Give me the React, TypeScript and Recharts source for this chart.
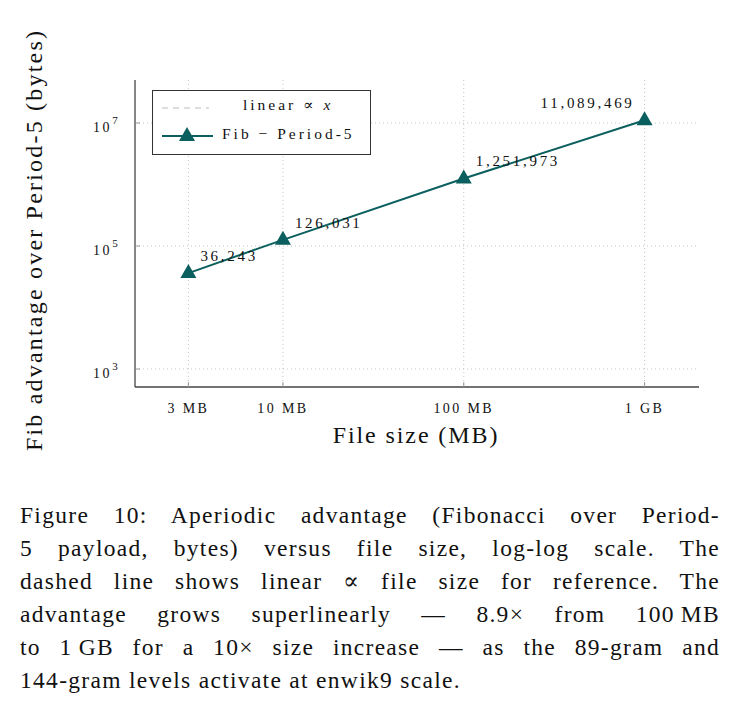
import React from 'react';
import { LineChart, Line, XAxis, YAxis, CartesianGrid, LabelList } from 'recharts';

// values
const sizesMB = [3, 10, 100, 1000];
const advantage = [36243, 126031, 1251973, 11089469];
const pointLabels = ['36,243', '126,031', '1,251,973', '11,089,469'];
const xTicks = [3, 10, 100, 1000];
const xTickLabels = ['3 MB', '10 MB', '100 MB', '1 GB'];
const yTicks = [1e3, 1e5, 1e7];

const data = sizesMB.map((s, i) => ({ size: s, adv: advantage[i], label: pointLabels[i] }));

const TEAL = '#0b5f5e';
const FRAME = '#454545';
const SERIF = '"Liberation Serif", "DejaVu Serif", serif';

const xLabel = (v: number) => xTickLabels[xTicks.indexOf(v)] ?? String(v);

const BottomTick = (props: any) => {
  const { x, y, payload } = props;
  return (
    <g>
      <line x1={x} x2={x} y1={y} y2={y - 5} stroke="#999" />
      <text x={x} y={y + 26} textAnchor="middle" fontSize={14} letterSpacing={2.4} fontFamily={SERIF} fill="#111">
        {xLabel(payload.value)}
      </text>
    </g>
  );
};

const TopTick = (props: any) => {
  const { x, y } = props;
  return <line x1={x} x2={x} y1={y} y2={y + 5} stroke="#999" />;
};

const LeftTick = (props: any) => {
  const { x, y, payload } = props;
  const exp = Math.round(Math.log10(payload.value));
  return (
    <g>
      <line x1={x} x2={x + 5} y1={y} y2={y} stroke="#999" />
      <text x={x - 42} y={y + 9} textAnchor="start" fontSize={14} letterSpacing={2.6} fontFamily={SERIF} fill="#111">
        10<tspan dy={-8} fontSize={11}>{exp}</tspan>
      </text>
    </g>
  );
};

const RightTick = (props: any) => {
  const { x, y } = props;
  return <line x1={x} x2={x - 5} y1={y} y2={y} stroke="#999" />;
};

const PointLabel = (props: any) => {
  const { x, y, value, index } = props;
  const last = index === advantage.length - 1;
  return (
    <text
      x={last ? x - 10 : x + 12}
      y={y - 12}
      textAnchor={last ? 'end' : 'start'}
      fontSize={15}
      letterSpacing={2.7}
      fontFamily={SERIF}
      fill="#111"
    >
      {value}
    </text>
  );
};

const Triangle = (props: any) => {
  const { cx, cy } = props;
  if (cx == null || cy == null) return null;
  return <polygon points={`${cx},${cy - 9} ${cx - 8},${cy + 5} ${cx + 8},${cy + 5}`} fill={TEAL} />;
};

export default function App() {
  return (
    <div style={{ position: 'absolute', left: 0, top: 0, width: 736, height: 722, background: '#fff', fontFamily: SERIF, color: '#111' }}>
      <LineChart
        width={736}
        height={460}
        data={data}
        margin={{ top: 80, right: 37, bottom: 43, left: 75 }}
      >
        <CartesianGrid stroke="#c4c4c4" strokeDasharray="1 3" verticalValues={xTicks} horizontalValues={yTicks} />
        <XAxis
          dataKey="size"
          type="number"
          scale="log"
          domain={[1.52, 2000]}
          allowDataOverflow
          ticks={xTicks}
          tickLine={false}
          tickSize={0}
          tickMargin={0}
          height={30}
          axisLine={{ stroke: FRAME, strokeWidth: 1.3 }}
          tick={<BottomTick />}
          interval={0}
        />
        <XAxis
          xAxisId="top"
          orientation="top"
          dataKey="size"
          type="number"
          scale="log"
          domain={[1.52, 2000]}
          allowDataOverflow
          ticks={xTicks}
          tickLine={false}
          tickSize={0}
          tickMargin={0}
          height={0}
          axisLine={{ stroke: FRAME, strokeWidth: 1.3 }}
          tick={<TopTick />}
          interval={0}
        />
        <YAxis
          type="number"
          scale="log"
          domain={[510, 5e7]}
          allowDataOverflow
          ticks={yTicks}
          tickLine={false}
          tickSize={0}
          tickMargin={0}
          width={60}
          axisLine={{ stroke: FRAME, strokeWidth: 1.3 }}
          tick={<LeftTick />}
          interval={0}
        />
        <YAxis
          yAxisId="right"
          orientation="right"
          type="number"
          scale="log"
          domain={[510, 5e7]}
          allowDataOverflow
          ticks={yTicks}
          tickLine={false}
          tickSize={0}
          tickMargin={0}
          width={0}
          axisLine={{ stroke: FRAME, strokeWidth: 1.3 }}
          tick={<RightTick />}
          interval={0}
        />
        <Line
          dataKey="adv"
          stroke={TEAL}
          strokeWidth={2}
          dot={<Triangle />}
          activeDot={false}
          isAnimationActive={false}
        >
          <LabelList dataKey="label" content={<PointLabel />} />
        </Line>
      </LineChart>

      {/* legend box */}
      <div
        style={{
          position: 'absolute',
          left: 152,
          top: 90,
          width: 217,
          height: 63,
          border: '1.3px solid #333',
          background: '#fff',
          fontSize: 15.5,
          letterSpacing: 3,
        }}
      >
        <svg width={60} height={63} style={{ position: 'absolute', left: 0, top: 0 }}>
          <line x1={9} x2={56} y1={17} y2={17} stroke="#bbb" strokeDasharray="6 5" strokeWidth={1} />
          <line x1={9} x2={60} y1={45} y2={45} stroke={TEAL} strokeWidth={2} />
          <polygon points="34,36 26,50 42,50" fill={TEAL} />
        </svg>
        <div style={{ position: 'absolute', left: 90, top: 5 }}>
          linear ∝ <i>x</i>
        </div>
        <div style={{ position: 'absolute', left: 69, top: 34 }}>Fib − Period-5</div>
      </div>

      {/* axis titles */}
      <div style={{ position: 'absolute', left: 0, width: 832, top: 422, textAlign: 'center', fontSize: 24, letterSpacing: 1.9 }}>
        File size (MB)
      </div>
      <div
        style={{
          position: 'absolute',
          left: 34,
          top: 240,
          transform: 'translate(-50%, -50%) rotate(-90deg)',
          whiteSpace: 'nowrap',
          fontSize: 24,
          letterSpacing: 2.2,
        }}
      >
        Fib advantage over Period-5 (bytes)
      </div>

      {/* caption */}
      <div style={{ position: 'absolute', left: 20, top: 499, width: 700, fontSize: 23.5, lineHeight: '33px', letterSpacing: 1.3 }}>
        {[
          'Figure 10: Aperiodic advantage (Fibonacci over Period-',
          '5 payload, bytes) versus file size, log-log scale. The',
          'dashed line shows linear ∝ file size for reference. The',
          'advantage grows superlinearly — 8.9× from 100\u2009MB',
          'to 1\u2009GB for a 10× size increase — as the 89-gram and',
        ].map((t) => (
          <div key={t} style={{ textAlign: 'justify', textAlignLast: 'justify' }}>
            {t}
          </div>
        ))}
        <div>144-gram levels activate at enwik9 scale.</div>
      </div>
    </div>
  );
}
